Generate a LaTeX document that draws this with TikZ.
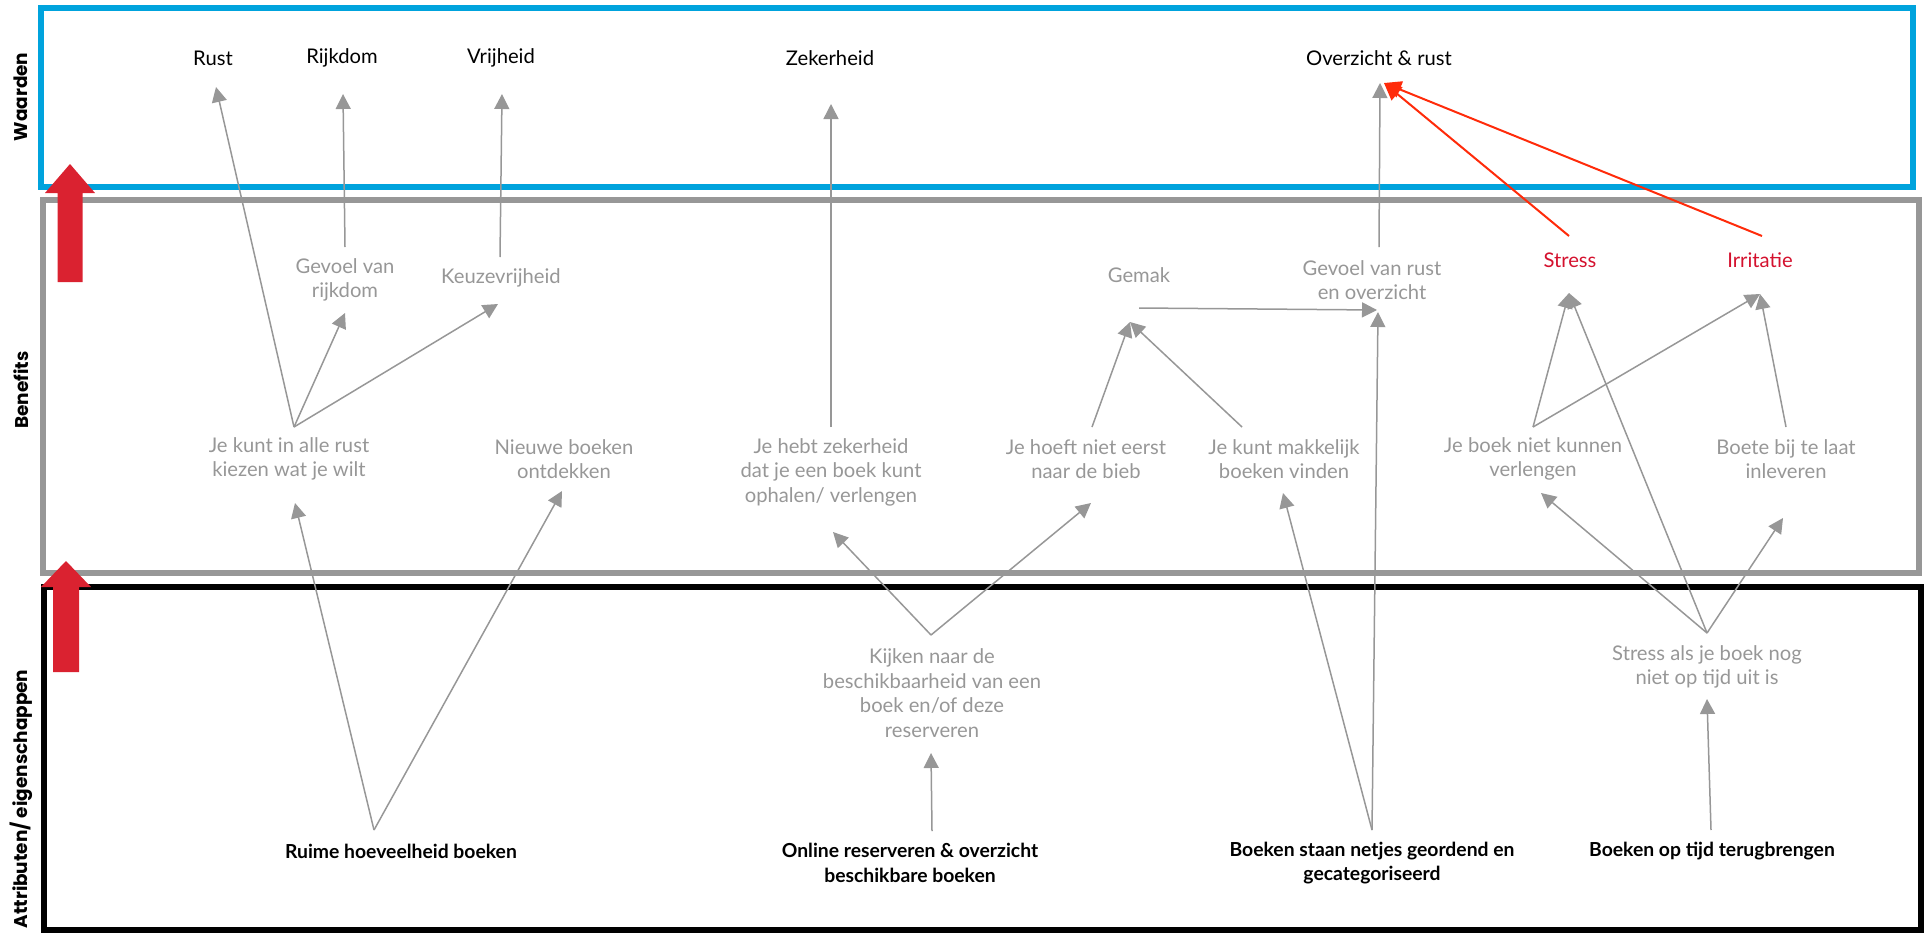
\documentclass[tikz,border=0pt]{standalone}
\usepackage{fontspec}
\setmainfont{Lato}
\newfontfamily\sidefont{Poppins}
\usetikzlibrary{arrows.meta}

\definecolor{waardenblue}{HTML}{00A3DD}
\definecolor{benefitgrey}{HTML}{979797}
\definecolor{bigred}{HTML}{DA2230}
\definecolor{redtext}{HTML}{D4112E}
\definecolor{redlink}{HTML}{FF2B0A}

\begin{document}
\begin{tikzpicture}[x=0.2mm, y=-0.2mm,
  vtxt/.style={text=black, align=center, inner sep=0pt, font=\fontsize{11.5}{14}\selectfont},
  gtxt/.style={text=benefitgrey, align=center, inner sep=0pt, font=\fontsize{11.5}{14}\selectfont},
  rtxt/.style={text=redtext, align=center, inner sep=0pt, font=\fontsize{11.5}{14}\selectfont},
  atxt/.style={text=black, align=center, inner sep=0pt, font=\fontsize{11}{14}\selectfont\bfseries},
  sidelbl/.style={text=black, rotate=90, inner sep=0pt, font=\sidefont\fontsize{10.5}{12}\selectfont\bfseries},
  link/.style={draw=benefitgrey, line width=0.3mm, -{Triangle[length=3mm, width=3mm]}},
  redarrow/.style={draw=redlink, line width=0.4mm, -{Triangle[length=3.4mm, width=3.4mm]}},
  bigarrow/.style={fill=bigred, draw=none}
]
\useasboundingbox (0,0) rectangle (1931,932);

% layer frames
\draw[waardenblue, line width=1.2mm] (41,8) rectangle (1913,187);
\draw[benefitgrey, line width=1.15mm] (43,200) rectangle (1919,573);
\draw[black, line width=1.1mm] (44,587) rectangle (1921,930);

% layer names
\node[sidelbl] (lblwaarden) at (21,97) {Waarden};
\node[sidelbl] (lblbenefits) at (21,390) {Benefits};
\node[sidelbl] (lblattr) at (21,799) {Attributen/ eigenschappen};

% upward arrows between the layers
\fill[bigarrow] (57.5,282) -- (57.5,193) -- (45,193) -- (70,164) -- (95,193) -- (82.5,193) -- (82.5,282) -- cycle;
\fill[bigarrow] (53,672) -- (53,587) -- (41,587) -- (66,561) -- (91,587) -- (79,587) -- (79,672) -- cycle;

% values
\node[vtxt] (rust) at (213,58) {Rust};
\node[vtxt] (rijkdom) at (342,58) {Rijkdom};
\node[vtxt] (vrijheid) at (501,58) {Vrijheid};
\node[vtxt] (zekerheid) at (830,58) {Zekerheid};
\node[vtxt] (overzicht) at (1379,58) {Overzicht \& rust};

% benefits, upper row
\node[gtxt] (rijkgevoel) at (345,280) {Gevoel van\\rijkdom};
\node[gtxt] (keuze) at (501,278) {Keuzevrijheid};
\node[gtxt] (gemak) at (1139,275) {Gemak};
\node[gtxt] (rustgevoel) at (1372,280) {Gevoel van rust\\en overzicht};
\node[rtxt] (stress) at (1570,260) {Stress};
\node[rtxt] (irritatie) at (1760,260) {Irritatie};

% benefits, lower row
\node[gtxt] (kiezen) at (289,459) {Je kunt in alle rust\\kiezen wat je wilt};
\node[gtxt] (nieuw) at (564,459) {Nieuwe boeken\\ontdekken};
\node[gtxt] (zeker) at (831,472) {Je hebt zekerheid\\dat je een boek kunt\\ophalen/ verlengen};
\node[gtxt] (bieb) at (1086,459) {Je hoeft niet eerst\\naar de bieb};
\node[gtxt] (vinden) at (1284,459) {Je kunt makkelijk\\boeken vinden};
\node[gtxt] (verlengen) at (1533,459) {Je boek niet kunnen\\verlengen};
\node[gtxt] (boete) at (1786,459) {Boete bij te laat\\inleveren};

% attributes
\node[gtxt] (kijken) at (932,693) {Kijken naar de\\beschikbaarheid van een\\boek en/of deze\\reserveren};
\node[gtxt] (tijdstress) at (1707,667) {Stress als je boek nog\\niet op tijd uit is};
\node[atxt] (ruime) at (401,851) {Ruime hoeveelheid boeken};
\node[atxt] (online) at (910,863) {Online reserveren \& overzicht\\beschikbare boeken};
\node[atxt] (geordend) at (1372,863) {Boeken staan netjes geordend en\\gecategoriseerd};
\node[atxt] (terug) at (1712,851) {Boeken op tijd terugbrengen};

% attachment points of the links
\coordinate (rustB) at (216,87);
\coordinate (rijkdomB) at (343,94);
\coordinate (vrijheidB) at (502,94);
\coordinate (zekerheidB) at (831,104);
\coordinate (overzichtB) at (1380,83);
\coordinate (overzichtR) at (1384,83);
\coordinate (rijkT) at (345,247);
\coordinate (rijkB) at (345,313);
\coordinate (keuzeT) at (500,257);
\coordinate (keuzeB) at (498,304);
\coordinate (gemakB) at (1130,322);
\coordinate (gemakR) at (1139,308);
\coordinate (rustgevoelT) at (1379,247);
\coordinate (rustgevoelL) at (1377,310);
\coordinate (rustgevoelB) at (1378,312);
\coordinate (stressT) at (1569,236);
\coordinate (stressB) at (1569,293);
\coordinate (irritatieT) at (1762,236);
\coordinate (irritatieB) at (1760,294);
\coordinate (kiezenT) at (294,427);
\coordinate (kiezenB) at (295,503);
\coordinate (nieuwB) at (562,491);
\coordinate (zekerT) at (831,427);
\coordinate (zekerB) at (833,532);
\coordinate (biebT) at (1092,427);
\coordinate (biebB) at (1091,503);
\coordinate (vindenT) at (1242,427);
\coordinate (vindenB) at (1283,493);
\coordinate (verlengenT) at (1533,427);
\coordinate (verlengenB) at (1541,493);
\coordinate (boeteT) at (1786,427);
\coordinate (boeteB) at (1783,518);
\coordinate (kijkenT) at (931,635);
\coordinate (kijkenB) at (931,753);
\coordinate (tijdstressT) at (1707,633);
\coordinate (tijdstressB) at (1707,699);
\coordinate (ruimeT) at (374,830);
\coordinate (onlineT) at (932,831);
\coordinate (geordendT) at (1372,830);
\coordinate (terugT) at (1711,830);

% links: attributes -> benefits
\draw[link] (ruimeT) -- (kiezenB);
\draw[link] (ruimeT) -- (nieuwB);
\draw[link] (onlineT) -- (kijkenB);
\draw[link] (kijkenT) -- (zekerB);
\draw[link] (kijkenT) -- (biebB);
\draw[link] (geordendT) -- (vindenB);
\draw[link] (geordendT) -- (rustgevoelB);
\draw[link] (terugT) -- (tijdstressB);
\draw[link] (tijdstressT) -- (verlengenB);
\draw[link] (tijdstressT) -- (boeteB);
\draw[link] (tijdstressT) -- (stressB);

% links: benefits -> benefits
\draw[link] (kiezenT) -- (rijkB);
\draw[link] (kiezenT) -- (keuzeB);
\draw[link] (biebT) -- (gemakB);
\draw[link] (vindenT) -- (gemakB);
\draw[link] (gemakR) -- (rustgevoelL);
\draw[link] (verlengenT) -- (stressB);
\draw[link] (verlengenT) -- (irritatieB);
\draw[link] (boeteT) -- (irritatieB);

% links: benefits -> values
\draw[link] (kiezenT) -- (rustB);
\draw[link] (rijkT) -- (rijkdomB);
\draw[link] (keuzeT) -- (vrijheidB);
\draw[link] (zekerT) -- (zekerheidB);
\draw[link] (rustgevoelT) -- (overzichtB);
\draw[redarrow] (stressT) -- (overzichtR);
\draw[redarrow] (irritatieT) -- (overzichtR);
\end{tikzpicture}
\end{document}
